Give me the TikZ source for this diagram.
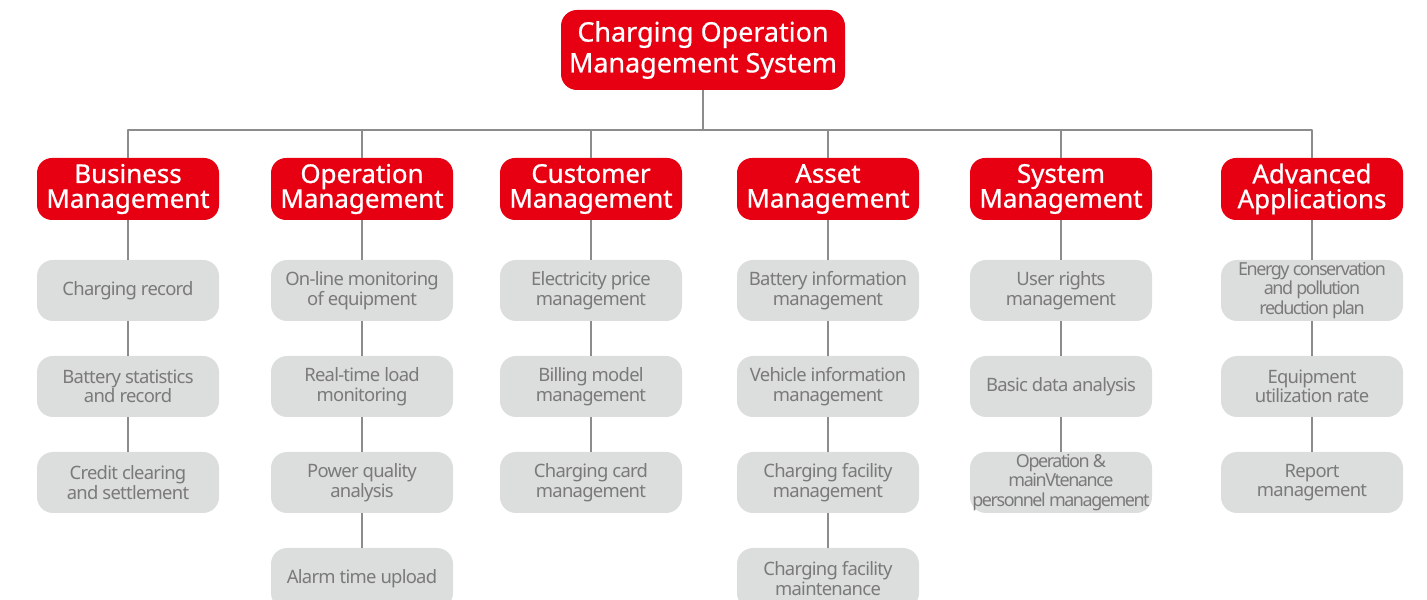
\documentclass[tikz,border=0pt]{standalone}
\usepackage{fontspec}
\setmainfont{Noto Sans}
\definecolor{chred}{HTML}{E60012}
\definecolor{chgray}{HTML}{DCDDDD}
\definecolor{chtext}{HTML}{7A7A7A}
\definecolor{chline}{HTML}{8C8C8C}
\tikzset{
  rootbox/.style={fill=chred,text=white,rounded corners=16bp,minimum width=284bp,minimum height=80bp,align=center,inner sep=0pt,font=\fontsize{27}{31}\selectfont\addfontfeatures{FakeBold=0.6}},
  catbox/.style={fill=chred,text=white,rounded corners=15bp,minimum width=182bp,minimum height=62bp,align=center,inner sep=0pt,font=\fontsize{26}{25}\selectfont\addfontfeatures{FakeBold=0.8}},
  itembox/.style={fill=chgray,text=chtext,rounded corners=16bp,minimum width=182bp,minimum height=61bp,align=center,inner sep=0pt,font=\fontsize{18.5}{19.5}\selectfont\addfontfeatures{LetterSpace=-4}},
  tightbox/.style={itembox,font=\fontsize{18}{20}\selectfont\addfontfeatures{LetterSpace=-8}},
  link/.style={draw=chline,line width=1.2bp},
}
\begin{document}
\begin{tikzpicture}[line join=bevel]
\useasboundingbox (0bp,0bp) rectangle (1427bp,600bp);
%%
\node (root) at (703bp,550bp) [rootbox] {Charging Operation\\Management System};
\coordinate (bar) at (703bp,470bp);
%
\node (cat_0) at (128bp,411bp) [catbox] {Business\\Management};
  \node (cat_1) at (362bp,411bp) [catbox] {Operation\\Management};
  \node (cat_2) at (591bp,411bp) [catbox] {Customer\\Management};
  \node (cat_3) at (828bp,411bp) [catbox] {Asset\\Management};
  \node (cat_4) at (1061bp,411bp) [catbox] {System\\Management};
  \node (cat_5) at (1312bp,411bp) [catbox] {Advanced\\Applications};
%
\node (item_0_0) at (128bp,309.5bp) [itembox] {Charging record};
  \node (item_0_1) at (128bp,213.5bp) [itembox] {Battery statistics\\and record};
  \node (item_0_2) at (128bp,117.5bp) [itembox] {Credit clearing\\and settlement};
%
\node (item_1_0) at (362bp,309.5bp) [itembox] {On-line monitoring\\of equipment};
  \node (item_1_1) at (362bp,213.5bp) [itembox] {Real-time load\\monitoring};
  \node (item_1_2) at (362bp,117.5bp) [itembox] {Power quality\\analysis};
  \node (item_1_3) at (362bp,21.5bp) [itembox] {Alarm time upload};
%
\node (item_2_0) at (591bp,309.5bp) [itembox] {Electricity price\\management};
  \node (item_2_1) at (591bp,213.5bp) [itembox] {Billing model\\management};
  \node (item_2_2) at (591bp,117.5bp) [itembox] {Charging card\\management};
%
\node (item_3_0) at (828bp,309.5bp) [itembox] {Battery information\\management};
  \node (item_3_1) at (828bp,213.5bp) [itembox] {Vehicle information\\management};
  \node (item_3_2) at (828bp,117.5bp) [itembox] {Charging facility\\management};
  \node (item_3_3) at (828bp,21.5bp) [itembox] {Charging facility\\maintenance};
%
\node (item_4_0) at (1061bp,309.5bp) [itembox] {User rights\\management};
  \node (item_4_1) at (1061bp,213.5bp) [itembox] {Basic data analysis};
  \node (item_4_2) at (1061bp,117.5bp) [tightbox] {Operation \&\\mainVtenance\\personnel management};
%
\node (item_5_0) at (1312bp,309.5bp) [tightbox] {Energy conservation\\and pollution\\reduction plan};
  \node (item_5_1) at (1312bp,213.5bp) [itembox] {Equipment\\utilization rate};
  \node (item_5_2) at (1312bp,117.5bp) [itembox] {Report\\management};
%
\draw [link] (root) -- (bar);
  \draw [link] (bar) -| (cat_0);
  \draw [link] (bar) -| (cat_1);
  \draw [link] (bar) -| (cat_2);
  \draw [link] (bar) -| (cat_3);
  \draw [link] (bar) -| (cat_4);
  \draw [link] (bar) -| (cat_5);
%
\draw [link] (cat_0) -- (item_0_0) -- (item_0_1) -- (item_0_2);
  \draw [link] (cat_1) -- (item_1_0) -- (item_1_1) -- (item_1_2) -- (item_1_3);
  \draw [link] (cat_2) -- (item_2_0) -- (item_2_1) -- (item_2_2);
  \draw [link] (cat_3) -- (item_3_0) -- (item_3_1) -- (item_3_2) -- (item_3_3);
  \draw [link] (cat_4) -- (item_4_0) -- (item_4_1) -- (item_4_2);
  \draw [link] (cat_5) -- (item_5_0) -- (item_5_1) -- (item_5_2);
%
\end{tikzpicture}
\end{document}
